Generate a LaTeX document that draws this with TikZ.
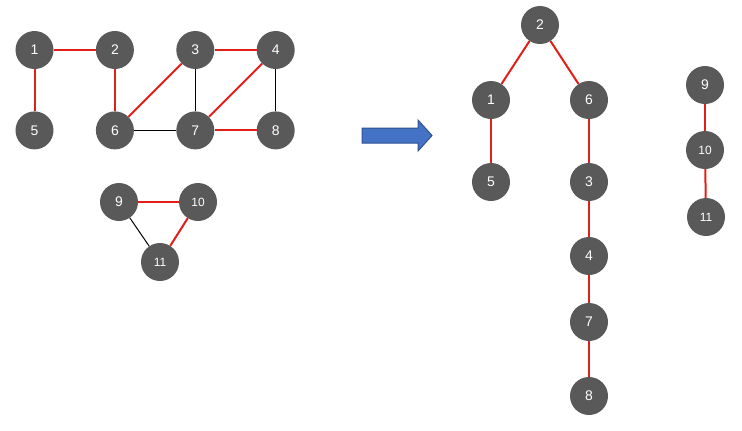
\documentclass[tikz,border=0pt]{standalone}
\usepackage{fontspec}
\setsansfont{Liberation Sans}
\usepackage{tikz}
\usetikzlibrary{positioning}
\definecolor{nodegray}{RGB}{89,89,89}
\definecolor{edgered}{RGB}{226,30,24}
\definecolor{arrowblue}{RGB}{68,114,196}
\definecolor{arrowedge}{RGB}{47,82,143}

\begin{document}
\begin{tikzpicture}[x=1bp,y=1bp,node distance=42bp,
    every node/.style={font=\sffamily\fontsize{14}{14}\selectfont},
    vtx/.style={circle,fill=nodegray,text=white,minimum size=38bp,inner sep=0pt},
    twodig/.style={font=\sffamily\fontsize{12}{12}\selectfont},
    rededge/.style={draw=edgered,line width=2bp},
    blackedge/.style={draw=black,line width=1bp}]
    \useasboundingbox (0,0) rectangle (742,-430);
    % original graph
    \node[vtx] (a1) at (34.5,-50) {1};
    \node[vtx,right=of a1] (a2) {2};
    \node[vtx,right=of a2] (a3) {3};
    \node[vtx,right=of a3] (a4) {4};
    \node[vtx,below=of a1] (a5) {5};
    \node[vtx,below=of a2] (a6) {6};
    \node[vtx,below=of a3] (a7) {7};
    \node[vtx,below=of a4] (a8) {8};
    \node[vtx] (a9) at (119,-202) {9};
    \node[vtx,twodig] (a10) at (198,-202) {10};
    \node[vtx,twodig] (a11) at (160,-262) {11};
    \draw[rededge] (a1) -- (a2);
    \draw[rededge] (a1) -- (a5);
    \draw[rededge] (a2) -- (a6);
    \draw[rededge] (a6) -- (a3);
    \draw[rededge] (a3) -- (a4);
    \draw[rededge] (a4) -- (a7);
    \draw[rededge] (a7) -- (a8);
    \draw[blackedge] (a6) -- (a7);
    \draw[blackedge] (a3) -- (a7);
    \draw[blackedge] (a4) -- (a8);
    \draw[rededge] (a9) -- (a10);
    \draw[rededge] (a10) -- (a11);
    \draw[blackedge] (a9) -- (a11);
    % block arrow
    \filldraw[fill=arrowblue,draw=arrowedge,line width=1bp]
      (362,-128) -- (418,-128) -- (418,-120) -- (432,-135.5) -- (418,-151)
      -- (418,-143) -- (362,-143) -- cycle;
    % spanning forest
    \node[vtx] (t2) at (540,-25) {2};
    \node[vtx] (t1) at (491,-100) {1};
    \node[vtx] (t6) at (589,-100) {6};
    \node[vtx] (t5) at (491,-182) {5};
    \node[vtx] (t3) at (589,-182) {3};
    \node[vtx] (t4) at (589,-256) {4};
    \node[vtx] (t7) at (589,-322) {7};
    \node[vtx] (t8) at (589,-396) {8};
    \node[vtx] (t9) at (705,-85) {9};
    \node[vtx,twodig] (t10) at (705,-150) {10};
    \node[vtx,twodig] (t11) at (706,-217) {11};
    \draw[rededge] (t2) -- (t1);
    \draw[rededge] (t2) -- (t6);
    \draw[rededge] (t1) -- (t5);
    \draw[rededge] (t6) -- (t3);
    \draw[rededge] (t3) -- (t4);
    \draw[rededge] (t4) -- (t7);
    \draw[rededge] (t7) -- (t8);
    \draw[rededge] (t9) -- (t10);
    \draw[rededge] (t10) -- (t11);
\end{tikzpicture}
\end{document}
